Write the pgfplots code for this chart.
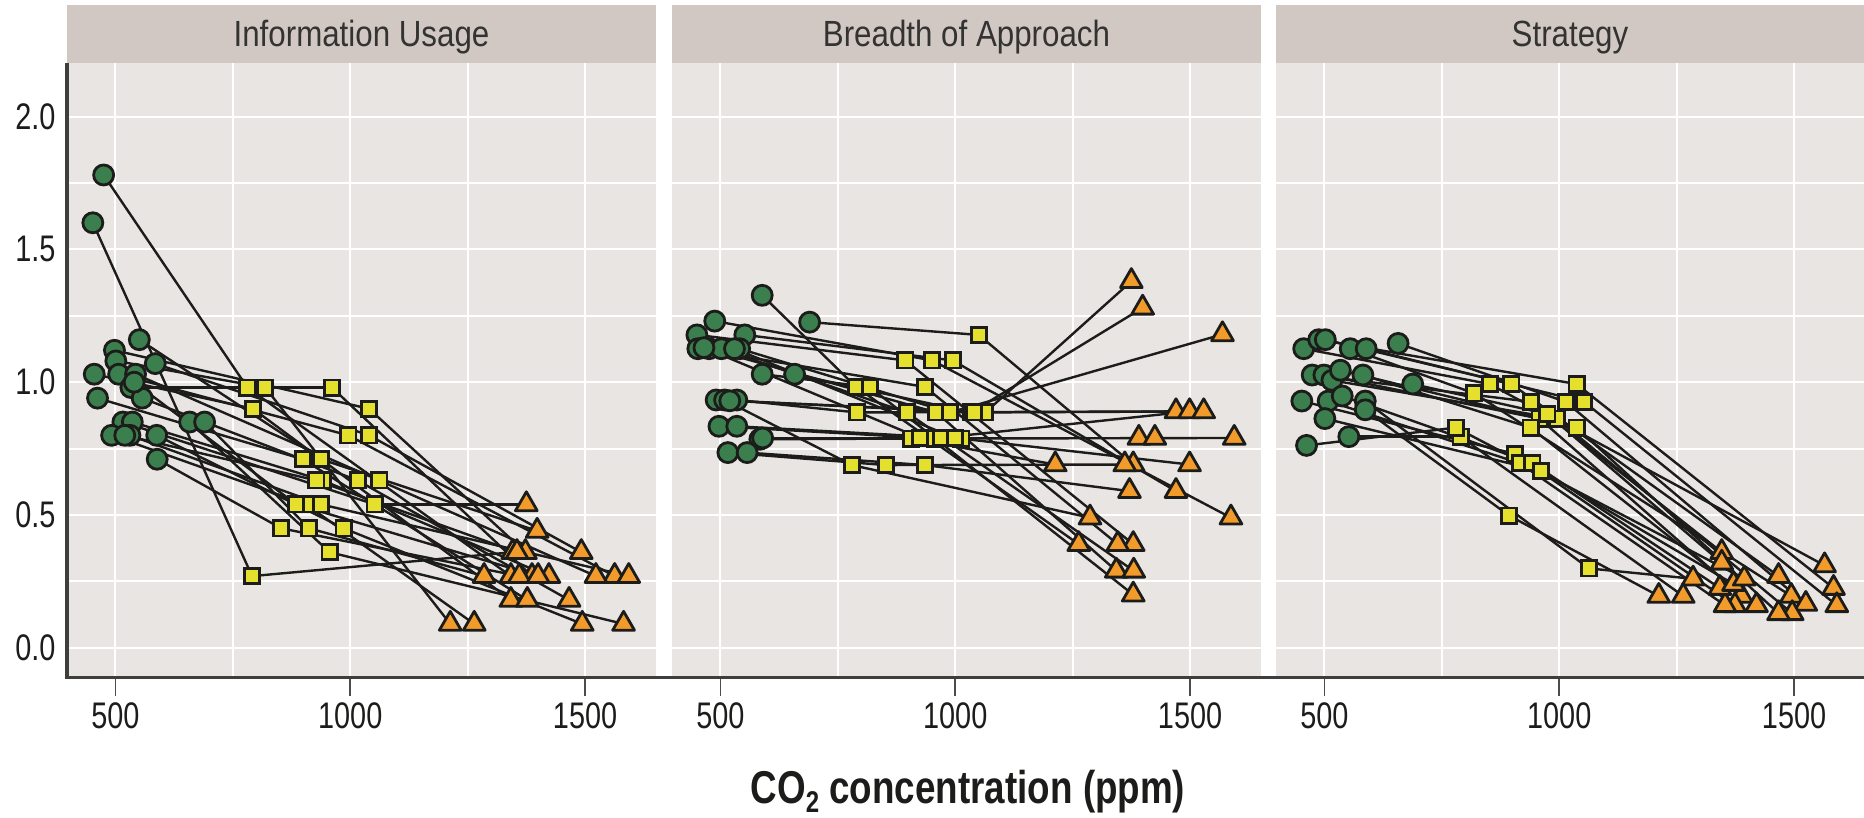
\documentclass[border=0pt]{standalone}
\usepackage{fontspec}
\setmainfont{Liberation Sans}
\newfontfamily\tickfont{Liberation Sans}[FakeStretch=0.78]
\newfontfamily\stripfont{Liberation Sans}[FakeStretch=0.86]
\newfontfamily\titlefont{Liberation Sans Bold}[FakeStretch=0.80]
\usepackage{pgfplots}
\pgfplotsset{compat=1.18}
\usepackage{pgfplotstable}

\definecolor{panelbg}{HTML}{E9E5E2}
\definecolor{stripbg}{HTML}{D1C8C3}
\definecolor{cgreen}{HTML}{3C7F4E}
\definecolor{cyellow}{HTML}{E5E02E}
\definecolor{corange}{HTML}{F29B2B}
\definecolor{ink}{HTML}{1C1C1A}

% Information Usage
\pgfplotstableread{
cx cy sx sy tx ty
475 1.78 781 0.98 1342 0.27
452 1.60 791 0.27 1346 0.36
551 1.16 938 0.71 1398 0.44
498 1.12 1040 0.90 1373 0.36
501 1.08 819 0.98 1213 0.09
585 1.07 1040 0.80 1492 0.36
455 1.03 793 0.90 1342 0.18
507 1.03 996 0.80 1563 0.27
543 1.03 1062 0.63 1523 0.27
533 0.98 961 0.98 1387 0.27
557 0.94 1016 0.63 1466 0.18
462 0.94 899 0.71 1377 0.18
516 0.85 1052 0.54 1375 0.54
536 0.85 942 0.63 1423 0.27
492 0.80 906 0.54 1264 0.09
531 0.80 938 0.54 1593 0.27
588 0.80 986 0.45 1494 0.09
658 0.85 956 0.36 1582 0.09
690 0.85 912 0.45 1285 0.27
589 0.71 853 0.45 1360 0.27
520 0.80 928 0.63 1355 0.36
540 1.00 885 0.54 1400 0.27
}\tA

% Breadth of Approach
\pgfplotstableread{
cx cy sx sy tx ty
589 1.327 789 0.982 1263 0.39
690 1.226 1050 1.178 1379 0.69
488 1.230 951 1.082 1587 0.49
450 1.178 894 1.082 1379 0.39
552 1.178 995 1.082 1470 0.59
452 1.126 936 0.982 1346 0.39
476 1.126 960 0.886 1343 0.29
502 1.126 897 0.886 1380 0.29
541 1.126 989 0.886 1569 1.18
589 1.030 818 0.982 1379 0.20
658 1.030 1034 0.886 1399 1.28
491 0.933 1064 0.886 1375 1.38
509 0.933 780 0.688 1287 0.49
535 0.933 791 0.886 1470 0.89
497 0.834 956 0.788 1499 0.89
535 0.834 1013 0.788 1594 0.79
584 0.785 906 0.788 1213 0.69
516 0.735 852 0.688 1361 0.69
557 0.735 936 0.688 1371 0.59
465 1.130 925 0.790 1391 0.79
520 0.930 1040 0.886 1529 0.89
590 0.790 970 0.790 1425 0.79
530 1.126 1000 0.790 1499 0.69
}\tB

% Strategy
\pgfplotstableread{
cx cy sx sy tx ty
456 1.126 852 0.993 1565 0.31
488 1.160 1037 0.993 1584 0.225
502 1.160 898 0.993 1467 0.27
555 1.126 819 0.958 1494 0.195
589 1.126 1053 0.926 1591 0.16
657 1.146 1014 0.926 1525 0.165
474 1.027 940 0.926 1346 0.36
499 1.027 958 0.863 1388 0.195
516 1.007 995 0.863 1496 0.13
534 1.045 1037 0.829 1467 0.13
582 1.027 939 0.829 1420 0.16
688 0.993 975 0.880 1346 0.32
452 0.929 906 0.730 1374 0.16
508 0.929 916 0.695 1353 0.16
538 0.948 943 0.695 1342 0.225
587 0.929 1063 0.299 1285 0.26
587 0.896 893 0.498 1212 0.195
501 0.863 961 0.666 1371 0.24
552 0.795 790 0.795 1264 0.195
462 0.762 780 0.829 1394 0.26
}\tC

\pgfplotsset{
  panel/.style={
    scale only axis, width=294.5pt, height=307.5pt,
    anchor=south west,
    xmin=397, xmax=1651, ymin=-0.112, ymax=2.203,
    axis background/.style={fill=panelbg},
    axis line style={draw=none},
    xtick={500,1000,1500}, xticklabels={500,1000,1500},
    minor xtick={750,1250},
    ytick={0,0.5,1,1.5,2},
    minor ytick={0.25,0.75,1.25,1.75},
    grid=both,
    major grid style={draw=white, line width=1pt},
    minor grid style={draw=white, line width=1pt},
    tick align=outside, tick pos=left,
    major tick length=9pt, minor tick length=0pt,
    xtick style={draw=black!70, line width=0.75pt},
    ytick style={draw=none},
    xticklabel style={font=\tickfont\fontsize{18.5}{20}\selectfont, text=ink},
    yticklabel style={font=\tickfont\fontsize{18.5}{20}\selectfont, text=ink, xshift=6.8pt},
  },
  segs/.style={draw=ink, line width=1.2pt, no markers},
  circ/.style={only marks, mark=*, mark size=5.0pt,
    mark options={fill=cgreen, draw=ink, line width=1.4pt}},
  sq/.style={only marks, mark=square*, mark size=3.8pt,
    mark options={fill=cyellow, draw=ink, line width=1.4pt}},
  tri/.style={only marks, mark=triangle*, mark size=6.3pt,
    mark options={fill=corange, draw=ink, line width=1.4pt, line join=round}},
}

\newcommand{\panelplots}[1]{%
  \addplot[segs, quiver={u=\thisrow{sx}-\thisrow{cx}, v=\thisrow{sy}-\thisrow{cy}}] table[x=cx,y=cy]{#1};
  \addplot[segs, quiver={u=\thisrow{tx}-\thisrow{sx}, v=\thisrow{ty}-\thisrow{sy}}] table[x=sx,y=sy]{#1};
  \addplot[circ] table[x=cx,y=cy]{#1};
  \addplot[sq] table[x=sx,y=sy]{#1};
  \addplot[tri] table[x=tx,y=ty]{#1};
}

\begin{document}
\begin{tikzpicture}
\useasboundingbox (0,0) rectangle (932pt,-409pt);

\begin{axis}[panel, at={(33.5pt,-338.8pt)},
  yticklabels={0.0,0.5,1.0,1.5,2.0}]
\panelplots{\tA}
\end{axis}

\begin{axis}[panel, at={(336pt,-338.8pt)}, yticklabels={}]
\panelplots{\tB}
\end{axis}

\begin{axis}[panel, at={(638pt,-338.8pt)}, yticklabels={}]
\panelplots{\tC}
\end{axis}

% facet strips
\fill[stripbg] (33.5pt,-2.5pt) rectangle (328pt,-31.3pt);
\fill[stripbg] (336pt,-2.5pt) rectangle (630.5pt,-31.3pt);
\fill[stripbg] (638pt,-2.5pt) rectangle (932pt,-31.3pt);
\node[anchor=base, font=\stripfont\fontsize{18.2}{20}\selectfont, text=ink!90] at (180.75pt,-23.35pt) {Information Usage};
\node[anchor=base, font=\stripfont\fontsize{18.2}{20}\selectfont, text=ink!90] at (483.25pt,-23.35pt) {Breadth of Approach};
\node[anchor=base, font=\stripfont\fontsize{18.2}{20}\selectfont, text=ink!90] at (785pt,-23.35pt) {Strategy};

% axis lines
\draw[ink!85, line width=1.6pt] (33.5pt,-31.3pt) -- (33.5pt,-338.8pt) -- (932pt,-338.8pt);

% x axis title
\node[anchor=base, font=\titlefont\fontsize{23}{26}\selectfont, text=ink] at (484pt,-401.5pt)
  {CO\raisebox{-4.5pt}{\fontsize{15}{15}\selectfont 2} concentration (ppm)};
\end{tikzpicture}
\end{document}
